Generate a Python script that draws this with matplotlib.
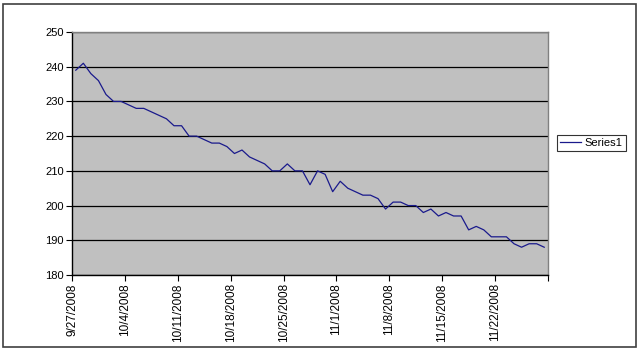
import matplotlib
matplotlib.use("Agg")
import matplotlib.pyplot as plt
from matplotlib.patches import Rectangle
import numpy as np
import datetime as dt

plt.rcParams['font.family'] = ['Liberation Sans', 'DejaVu Sans']

start_date = dt.date(2008, 9, 27)
values = [239, 241, 238, 236, 232, 230, 230, 229, 228, 228,
          227, 226, 225, 223, 223, 220, 220, 219, 218, 218,
          217, 215, 216, 214, 213, 212, 210, 210, 212, 210,
          210, 206, 210, 209, 204, 207, 205, 204, 203, 203,
          202, 199, 201, 201, 200, 200, 198, 199, 197, 198,
          197, 197, 193, 194, 193, 191, 191, 191, 189, 188,
          189, 189, 188]
series_name = "Series1"
y_ticks = [180, 190, 200, 210, 220, 230, 240, 250]

n = len(values)
days = np.arange(n)
tick_days = list(range(0, n + 1, 7))
tick_labels = [(start_date + dt.timedelta(days=d)).strftime("%-m/%-d/%Y") for d in tick_days]
tick_labels[-1] = ""

W, H = 640, 351
fig = plt.figure(figsize=(W / 100, H / 100), dpi=100)
fig.patch.set_facecolor("white")

l, r, t, b = 72, 548, 32, 275
ax = fig.add_axes([l / W, 1 - b / H, (r - l) / W, (b - t) / H])
ax.set_facecolor("#C0C0C0")
ax.plot(days + 0.5, values, color="#1a1a8c", lw=0.9, label=series_name)
ax.set_xlim(0, n)
ax.set_ylim(180, 250)
ax.set_yticks(y_ticks)
ax.set_yticklabels([str(v) for v in y_ticks], fontsize=8)
ax.set_xticks(tick_days)
ax.set_xticklabels(tick_labels, rotation=90, fontsize=8.5, va="top")
ax.yaxis.grid(True, color="black", lw=0.9)
ax.set_axisbelow(True)
ax.tick_params(direction="out", length=4, width=0.8, color="black", pad=2)
for side in ["top", "right"]:
    ax.spines[side].set_color("#808080")
    ax.spines[side].set_linewidth(1)
for side in ["left", "bottom"]:
    ax.spines[side].set_color("black")
    ax.spines[side].set_linewidth(1)

leg = fig.legend(loc="center left", bbox_to_anchor=(557 / W, 1 - 143 / H),
                 fontsize=8, frameon=True, fancybox=False, handlelength=1.9,
                 borderpad=0.3, handletextpad=0.3, borderaxespad=0)
leg.get_frame().set_edgecolor("black")
leg.get_frame().set_linewidth(0.8)

fig.patches.append(Rectangle((3 / W, 4 / H), (W - 7) / W, (H - 8) / H,
                             transform=fig.transFigure, fill=False,
                             edgecolor="#404040", lw=1.2))

fig.savefig("out.png", dpi=100)
